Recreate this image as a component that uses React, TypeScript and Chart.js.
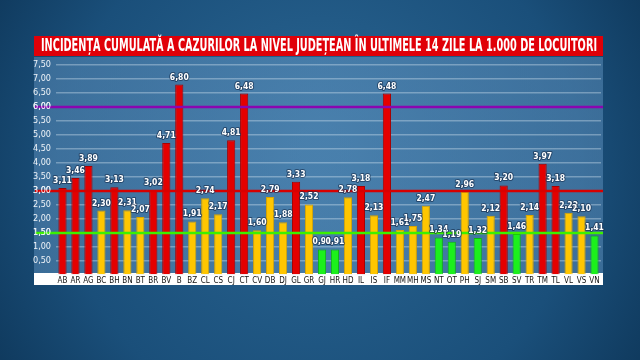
import React, { useEffect, useRef } from "react";
import { Chart, registerables } from "chart.js";

Chart.register(...registerables);

const TITLE = "INCIDENȚA CUMULATĂ A CAZURILOR LA NIVEL JUDEȚEAN ÎN ULTIMELE 14 ZILE LA 1.000 DE LOCUITORI";

const categories = [
  "AB", "AR", "AG", "BC", "BH", "BN", "BT", "BR", "BV", "B", "BZ", "CL", "CS", "CJ",
  "CT", "CV", "DB", "DJ", "GL", "GR", "GJ", "HR", "HD", "IL", "IS", "IF", "MM", "MH",
  "MS", "NT", "OT", "PH", "SJ", "SM", "SB", "SV", "TR", "TM", "TL", "VL", "VS", "VN",
];

const values = [
  3.11, 3.46, 3.89, 2.3, 3.13, 2.31, 2.07, 3.02, 4.71, 6.8, 1.91, 2.74, 2.17, 4.81,
  6.48, 1.6, 2.79, 1.88, 3.33, 2.52, 0.91, 0.91, 2.78, 3.18, 2.13, 6.48, 1.61, 1.75,
  2.47, 1.34, 1.19, 2.96, 1.32, 2.12, 3.2, 1.46, 2.14, 3.97, 3.18, 2.22, 2.1, 1.41,
];

const thresholdValues = [6, 3, 1.5];
const thresholdColors = ["#8a06b0", "#d80000", "#3cf000"];

const fmt = (v: number) => v.toFixed(2).replace(".", ",");

const barColor = (v: number) => (v >= 3 ? "#e40000" : v >= 1.5 ? "#ffc600" : "#1cf01c");
const barBorder = (v: number) => (v >= 3 ? "#a80000" : v >= 1.5 ? "#d9a400" : "#0fb80f");

const PANEL = { left: 34, right: 603, top: 57, bottom: 273 };
const FONT = "'Liberation Sans Narrow', 'DejaVu Sans Condensed', sans-serif";
const TICK_COLOR = "#eef3f8";

const bgPlugin = {
  id: "bgPlugin",
  beforeDraw(chart: any) {
    const ctx = chart.ctx as CanvasRenderingContext2D;
    const W = chart.width;
    const H = chart.height;
    ctx.save();
    const g = ctx.createRadialGradient(320, 150, 20, 320, 180, 420);
    g.addColorStop(0, "#2a6592");
    g.addColorStop(0.6, "#1a4f7a");
    g.addColorStop(1, "#0b3152");
    ctx.fillStyle = g;
    ctx.fillRect(0, 0, W, H);
    const pg = ctx.createLinearGradient(PANEL.left, 0, PANEL.right, 0);
    pg.addColorStop(0, "rgba(95,145,190,0.5)");
    pg.addColorStop(0.5, "rgba(110,160,205,0.45)");
    pg.addColorStop(1, "rgba(95,145,190,0.5)");
    ctx.fillStyle = pg;
    ctx.fillRect(PANEL.left, PANEL.top, PANEL.right - PANEL.left, PANEL.bottom - PANEL.top);
    ctx.fillStyle = "#ffffff";
    ctx.fillRect(PANEL.left, PANEL.bottom, PANEL.right - PANEL.left, 12);
    ctx.fillStyle = "#e00008";
    ctx.fillRect(PANEL.left, 36, PANEL.right - PANEL.left, 20);
    ctx.font = `bold 17px ${FONT}`;
    ctx.fillStyle = "#ffffff";
    ctx.textBaseline = "middle";
    ctx.textAlign = "left";
    const tw = ctx.measureText(TITLE).width;
    const target = 556;
    ctx.translate(41, 46.5);
    ctx.scale(target / tw, 1);
    ctx.fillText(TITLE, 0, 0);
    ctx.restore();
  },
};

const overlayPlugin = {
  id: "overlayPlugin",
  afterDatasetsDraw(chart: any) {
    const ctx = chart.ctx as CanvasRenderingContext2D;
    const y = chart.scales.y;
    ctx.save();
    thresholdValues.forEach((t, i) => {
      const py = y.getPixelForValue(t);
      ctx.strokeStyle = thresholdColors[i];
      ctx.lineWidth = 2.5;
      ctx.beginPath();
      ctx.moveTo(PANEL.left + 1, py);
      ctx.lineTo(PANEL.right, py);
      ctx.stroke();
      ctx.font = `9px ${FONT}`;
      ctx.fillStyle = TICK_COLOR;
      ctx.textAlign = "right";
      ctx.textBaseline = "middle";
      ctx.fillText(fmt(t), chart.chartArea.left - 5, py);
    });
    const meta = chart.getDatasetMeta(0);
    ctx.font = `bold 8.5px ${FONT}`;
    ctx.textAlign = "center";
    ctx.textBaseline = "bottom";
    ctx.lineJoin = "round";
    meta.data.forEach((bar: any, i: number) => {
      const txt = fmt(values[i]);
      ctx.strokeStyle = "rgba(20,40,70,0.6)";
      ctx.lineWidth = 2;
      ctx.strokeText(txt, bar.x, bar.y - 3);
      ctx.fillStyle = "#ffffff";
      ctx.fillText(txt, bar.x, bar.y - 3);
    });
    ctx.restore();
  },
};

export default function App() {
  const ref = useRef<HTMLCanvasElement | null>(null);
  useEffect(() => {
    if (!ref.current) return;
    const chart = new Chart(ref.current, {
      type: "bar",
      data: {
        labels: categories,
        datasets: [
          {
            data: values,
            backgroundColor: values.map(barColor),
            borderColor: values.map(barBorder),
            borderWidth: 1,
            barPercentage: 0.63,
            categoryPercentage: 1,
          },
        ],
      },
      options: {
        responsive: false,
        animation: false,
        layout: { padding: { left: 30, right: 39, top: 65, bottom: 73 } },
        plugins: { legend: { display: false }, tooltip: { enabled: false }, title: { display: false } },
        scales: {
          x: {
            grid: { display: false, drawTicks: false, tickLength: 0 },
            border: { display: false },
            ticks: {
              color: "#111111",
              padding: 1,
              maxRotation: 0,
              autoSkip: false,
              font: { family: FONT, size: 8 },
            },
            afterFit: (s: any) => {
              s.height = 12;
            },
          },
          y: {
            min: 0,
            max: 7.5,
            grid: { color: "rgba(230,240,250,0.35)", lineWidth: 1.5, drawTicks: false },
            border: { display: false },
            ticks: {
              stepSize: 0.5,
              color: TICK_COLOR,
              padding: 5,
              font: { family: FONT, size: 9 },
              callback: (v: any) => (Number(v) === 0 ? "" : fmt(Number(v))),
            },
            afterFit: (s: any) => {
              s.width = 26;
            },
          },
        },
      },
      plugins: [bgPlugin, overlayPlugin],
    });
    return () => chart.destroy();
  }, []);
  return (
    <div style={{ position: "absolute", left: 0, top: 0, width: 640, height: 360 }}>
      <canvas ref={ref} width={640} height={360} style={{ display: "block", width: 640, height: 360 }} />
    </div>
  );
}
